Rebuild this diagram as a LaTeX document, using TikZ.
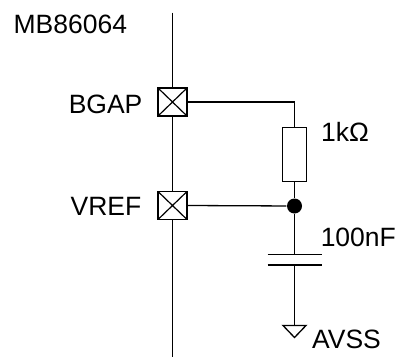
\documentclass[tikz,border=0pt]{standalone}
\usepackage{fontspec}
\setmainfont{Liberation Sans}
\begin{document}
\begin{tikzpicture}[x=1pt,y=-1pt, line width=1.3pt,
  pad/.style={draw, minimum width=29pt, minimum height=28pt, inner sep=0pt, line width=1.5pt,
    path picture={\draw[line width=1.2pt] (path picture bounding box.north west) -- (path picture bounding box.south east)
      (path picture bounding box.north east) -- (path picture bounding box.south west);}},
  lbl/.style={anchor=base west, inner sep=0pt, font=\fontsize{26.5}{30}\selectfont},
  res/.style={draw, minimum width=24pt, minimum height=54pt, inner sep=0pt},
  dot/.style={circle, fill, minimum size=15pt, inner sep=0pt},
  plate/.style={line width=1.5pt}]
\useasboundingbox (0,0) rectangle (396,357);
\coordinate (top) at (172.5,12.7);
\coordinate (bot) at (172.5,357);
\node[pad] (bgap) at (172.5,102) {};
\node[pad] (vref) at (172.5,205.5) {};
\draw (top) -- (bgap.north);
\draw (bgap.south) -- (vref.north);
\draw (vref.south) -- (bot);
\node[res] (r) at (294.5,154.5) {};
\node[dot] (j) at (294.5,206) {};
\draw (bgap.east) -| (r.north);
\draw (r.south) -- (j);
\draw (vref.east) -- (j);
\coordinate (c1) at (294.5,254.5);
\coordinate (c2) at (294.5,265);
\coordinate (c1w) at (267.7,254.5);
\coordinate (c1e) at (321.7,254.5);
\coordinate (c2w) at (267.7,265);
\coordinate (c2e) at (321.7,265);
\draw (j) -- (c1);
\draw[plate] (c1w) -- (c1e);
\draw[plate] (c2w) -- (c2e);
\coordinate (g) at (294.5,325.5);
\coordinate (gw) at (283,325.5);
\coordinate (ge) at (306,325.5);
\coordinate (gs) at (294.5,337.5);
\draw (c2) -- (g);
\draw[line join=miter] (gw) -- (ge) -- (gs) -- cycle;
\node[lbl] (chip) at (13,33.3) {MB86064};
\node[lbl] (lb) at (68.1,113) {BGAP};
\node[lbl] (lv) at (70,215) {VREF};
\node[lbl] (lr) at (320.4,141.7) {1k\char"03A9};
\node[lbl] (lc) at (320.1,246) {100nF};
\node[lbl] (lg) at (311.5,348) {AVSS};
\end{tikzpicture}
\end{document}
